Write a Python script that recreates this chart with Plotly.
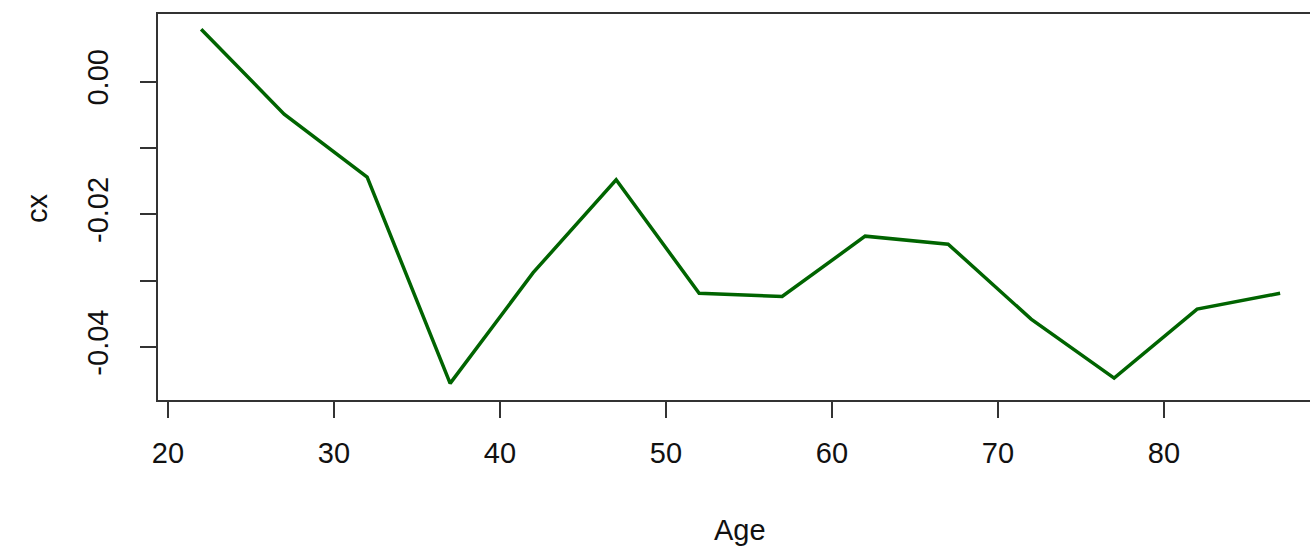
import plotly.graph_objects as go

ages = [22, 27, 32, 37, 42, 47, 52, 57, 62, 67, 72, 77, 82, 87]
cx = [0.0079, -0.0049, -0.0144, -0.0455, -0.0288, -0.0148, -0.0319, -0.0324,
      -0.0233, -0.0245, -0.0358, -0.0447, -0.0343, -0.0319]

x_ticks = [20, 30, 40, 50, 60, 70, 80]
x_ticktext = ["20", "30", "40", "50", "60", "70", "80"]
y_ticks = [-0.04, -0.03, -0.02, -0.01, 0.00]
y_ticktext = ["-0.04", "", "-0.02", "", "0.00"]

font = "Liberation Sans, Arial, sans-serif"
fs = 29

fig = go.Figure()
fig.add_trace(go.Scatter(x=ages, y=cx, mode="lines",
                         line=dict(color="#006400", width=3.5), showlegend=False))

L, T, B, W, H = 158, 14, 148, 1310, 548
pw = W - L
ph = H - T - B

fig.update_layout(
    width=W, height=H,
    margin=dict(l=L, r=0, t=T, b=B, autoexpand=False),
    paper_bgcolor="white", plot_bgcolor="white",
    font=dict(family=font, size=fs, color="#111"),
    xaxis=dict(range=[19.4, 88.8], tickvals=x_ticks, ticktext=x_ticktext,
               showgrid=False, zeroline=False, showline=True, mirror=True,
               linecolor="#333", linewidth=2, ticks="outside", ticklen=16,
               tickwidth=1.5, tickcolor="#333", ticklabelstandoff=10,
               tickfont=dict(family=font, size=fs, color="#111")),
    yaxis=dict(range=[-0.0480, 0.0102], tickvals=y_ticks, ticktext=y_ticktext,
               showgrid=False, zeroline=False, showline=True, mirror=False,
               linecolor="#333", linewidth=2, ticks="outside", ticklen=16,
               tickwidth=1.5, tickcolor="#333", tickangle=-90, ticklabelstandoff=20,
               tickfont=dict(family=font, size=fs, color="#111")),
    annotations=[
        dict(text="Age", x=(740 - L) / pw, y=(H - B - 530) / ph,
             xref="paper", yref="paper", showarrow=False,
             xanchor="center", yanchor="middle",
             font=dict(family=font, size=fs, color="#111")),
        dict(text="cx", x=(37 - L) / pw, y=(H - B - 208) / ph, textangle=-90,
             xref="paper", yref="paper", showarrow=False,
             xanchor="center", yanchor="middle",
             font=dict(family=font, size=fs, color="#111")),
    ],
)

fig.write_html("out.html", config={"displayModeBar": False},
               post_script="document.body.style.margin='0';document.body.style.overflow='hidden';")
